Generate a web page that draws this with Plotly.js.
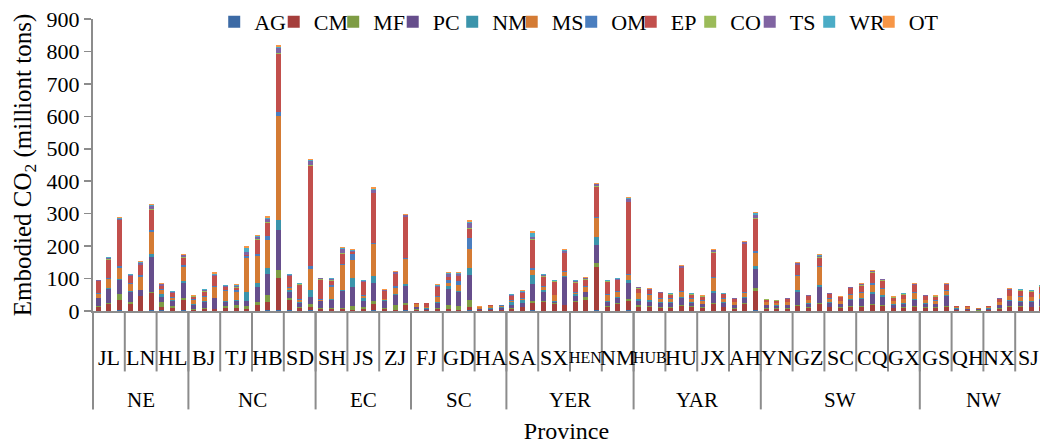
<!DOCTYPE html>
<html><head><meta charset="utf-8">
<script src="https://cdn.plot.ly/plotly-3.0.1.min.js"></script>
<style>html,body{margin:0;padding:0;background:#fff}#chart{width:1040px;height:444px}</style>
</head><body><div id="chart"></div>
<script>
const provinces = ['JL','LN','HL','BJ','TJ','HB','SD','SH','JS','ZJ','FJ','GD','HA','SA','SX','HEN','NM','HUB','HU','JX','AH','YN','GZ','SC','CQ','GX','GS','QH','NX','SJ'];
const regions = ['NE','NC','EC','SC','YER','YAR','SW','NW'];
const regionSizes = [3,4,3,3,4,4,5,4];
const barsPerProvince = 3;
const seriesNames = ['AG','CM','MF','PC','NM','MS','OM','EP','CO','TS','WR','OT'];
const seriesColors = ['#3C6AA5','#A53E3B','#7E9C44','#664E8C','#3B94AB','#D47B34','#4A7EBF','#C24F4C','#9BBB59','#8064A2','#4BACC6','#F79646'];

const AG = [1,1,3, 1,1,2, 2,1,2, 1,1,1, 1,1,1, 1,2,2, 2,1,2, 1,1,1, 1,1,2, 1,1,2,
  0.5,0.5,1, 1,1,2, 0.5,0.5,0.5, 1,1,2, 1,1,1, 1,1,2, 1,1,2, 1,1,1, 1,1,1, 1,1,1, 1,1,2,
  1,1,1, 1,1,1, 1,1,1, 1,1,1, 1,1,1, 1,1,1, 0.5,0.5,0.3, 0.5,1,1, 1,1,1];
const CM = [11,22,30, 22,44,52, 10,9,31, 3,6,5, 9,9,5, 16,26,100, 31,8,10, 6,4,6, 3,6,21, 5,3,16,
  4,3,6, 4,3,11, 2,2,2, 6,11,23, 27,20,17, 27,34,134, 11,20,30, 12,10,8, 8,15,10, 8,20,10, 6,20,60,
  5,5,6, 15,8,20, 10,8,12, 12,18,15, 7,8,12, 8,8,12, 2,2,1, 2,6,10, 10,10,12];
const MF = [4,2,20, 5,2,5, 17,6,8, 2,3,1, 5,7,10, 12,20,24, 7,4,10, 1,3,1, 12,5,7, 4,14,7,
  1,1,3, 12,12,22, 1,1,1, 2,1,5, 3,3,1, 4,8,13, 2,3,5, 4,4,3, 3,3,3, 2,4,2, 2,3,8,
  2,2,2, 3,2,4, 2,2,3, 3,4,3, 2,2,3, 2,2,3, 1,1,0.5, 1,2,3, 3,2,3];
const PC = [23,44,43, 30,17,107, 15,15,44, 14,17,32, 12,14,16, 44,66,124, 20,12,20, 22,27,54, 57,20,56, 20,30,51,
  7,3,14, 50,42,76, 3,3,6, 10,12,52, 27,4,85, 13,15,54, 14,15,50, 15,14,12, 12,20,12, 10,30,12, 9,15,60,
  9,8,9, 40,12,50, 12,10,18, 20,30,25, 10,12,18, 11,10,30, 4,3,3, 4,9,16, 15,14,18];
const NM = [2,2,4, 4,2,10, 7,2,6, 2,5,2, 4,4,26, 12,20,32, 4,4,22, 1,2,4, 28,7,22, 3,4,7,
  1,0.5,4, 10,3,22, 1,4,2, 9,8,28, 7,4,5, 7,2,26, 2,3,8, 4,4,3, 3,4,3, 2,6,3, 2,3,10,
  2,2,2, 5,2,6, 3,2,4, 4,6,5, 2,3,4, 2,2,4, 1,1,0.5, 1,2,3, 3,3,4];
const MS = [12,27,34, 20,40,68, 14,8,44, 12,10,34, 30,25,106, 85,86,320, 6,4,66, 4,38,77, 55,7,100, 4,20,76,
  7,4,15, 10,18,58, 4,5,5, 4,4,17, 8,16,12, 5,13,57, 20,18,15, 18,16,10, 10,15,8, 8,40,9, 7,15,40,
  8,7,8, 45,8,55, 9,7,12, 15,22,18, 8,10,18, 9,9,12, 3,4,3, 3,8,12, 12,12,15];
const OM = [2,3,4, 4,5,5, 3,3,6, 2,3,2, 4,4,7, 5,10,12, 3,4,8, 1,5,2, 20,2,3, 1,4,4,
  1,0.5,2, 10,15,33, 0.5,0.5,0.5, 2,2,6, 5,2,2, 2,3,5, 2,2,5, 3,3,2, 2,3,2, 2,4,2, 1,2,5,
  1,1,1, 3,2,3, 2,2,3, 3,4,3, 2,2,3, 2,2,3, 0.5,0.5,0.3, 0.5,1,2, 2,2,3];
const EP = [37,57,141, 21,30,61, 8,11,23, 8,15,30, 8,7,2, 45,40,178, 34,44,310, 61,14,32, 5,40,152, 24,38,126,
  2,11,29, 7,13,28, 1,1,0.5, 12,17,86, 28,40,55, 28,21,92, 38,34,220, 12,12,16, 11,72,11, 11,75,12, 9,148,100,
  7,6,8, 30,11,25, 12,10,17, 20,32,23, 9,12,20, 11,10,15, 2,2,1, 2,8,17, 16,15,18];
const CO = [1,1,2, 1,2,3, 2,1,2, 1,1,1, 1,2,1, 2,3,4, 2,1,3, 1,1,1, 1,1,2, 1,1,2,
  0.5,0.5,1, 2,2,3, 0.3,0.2,0.2, 1,1,2, 1,1,1, 1,1,2, 1,1,2, 1,1,1, 1,1,1, 1,2,1, 1,1,2,
  1,1,1, 1,1,2, 1,1,1, 2,2,2, 1,1,2, 1,1,1, 0.3,0.3,0.1, 0.3,1,2, 2,2,2];
const TS = [2,4,4, 3,5,10, 4,4,6, 1,4,4, 3,4,8, 6,10,14, 3,2,10, 3,4,13, 4,4,7, 2,4,4,
  0.5,0.5,3, 8,6,15, 0.3,0.3,0.1, 2,3,8, 4,3,7, 4,4,5, 3,3,8, 3,3,2, 2,4,2, 1,5,1, 1,4,10,
  1,1,1, 4,2,5, 2,1,2, 3,4,3, 2,2,2, 2,2,2, 0.3,0.3,0.1, 0.3,1,2, 2,2,2];
const WR = [1,2,3, 2,3,3, 2,2,2, 1,2,3, 2,3,12, 2,4,5, 1,1,3, 1,2,2, 2,2,3, 1,2,2,
  0.2,0.2,2, 3,2,5, 0.2,0.3,0.1, 2,2,10, 2,1,2, 3,1,2, 1,1,2, 1,1,1, 1,2,1, 1,2,1, 0.5,1,4,
  0.5,0.5,0.5, 1,0.5,2, 0.5,0.5,1, 1,1,1, 0.5,1,1, 0.5,0.5,1, 0.2,0.2,0.1, 0.2,0.5,1, 1,1,1];
const OT = [1,2,2, 2,4,4, 2,1,3, 1,2,6, 2,2,6, 4,5,5, 2,2,4, 1,2,5, 2,2,6, 1,3,3,
  0.3,0.3,2, 3,3,5, 0.2,0.2,0.1, 1,2,7, 2,2,2, 2,2,3, 2,2,3, 1,1,1, 1,2,1, 1,3,1, 0.5,2,4,
  0.5,0.5,0.5, 2,0.5,2, 0.5,0.5,1, 1,1,1, 0.5,1,1, 0.5,0.5,1, 0.2,0.2,0.1, 0.2,0.5,1, 1,1,1];

const seriesValues = [AG, CM, MF, PC, NM, MS, OM, EP, CO, TS, WR, OT];
const FONT = 'Liberation Serif, Times New Roman, serif';
const GRAY = '#8c8c8c';
const barIndex = AG.map((_, i) => i);

const traces = seriesNames.map((name, k) => {
  const t = {
    type: 'bar', name: name, x: barIndex, y: seriesValues[k], width: 0.47,
    marker: {color: seriesColors[k], line: {width: 0}}, hoverinfo: 'name+y'
  };
  if (k === seriesNames.length - 1) t.legendwidth = 36;
  return t;
});

const annotations = [];
const shapes = [];
provinces.forEach((p, i) => {
  const size = p.length > 2 ? 16 : 22;
  const last = i === provinces.length - 1;
  annotations.push({x: i * barsPerProvince + 1, xref: 'x', y: -0.159, yref: 'paper', text: p,
    showarrow: false, yanchor: 'middle', xshift: last ? -3 : 0, font: {family: FONT, size: size, color: '#000'}});
  if (i > 0) shapes.push({type: 'line', xref: 'x', yref: 'paper', x0: i * barsPerProvince - 0.5, x1: i * barsPerProvince - 0.5,
    y0: 0, y1: -0.207, line: {color: GRAY, width: 2}});
});
let start = 0;
regions.forEach((r, j) => {
  const end = start + regionSizes[j];
  annotations.push({x: (start * barsPerProvince + end * barsPerProvince - 1) / 2, xref: 'x', y: -0.306, yref: 'paper',
    text: r, showarrow: false, yanchor: 'middle', font: {family: FONT, size: 21, color: '#000'}});
  if (start > 0) shapes.push({type: 'line', xref: 'x', yref: 'paper', x0: start * barsPerProvince - 0.5, x1: start * barsPerProvince - 0.5,
    y0: 0, y1: -0.337, line: {color: GRAY, width: 2}});
  start = end;
});
shapes.push({type: 'line', xref: 'paper', yref: 'paper', x0: 0, x1: 0, y0: 0, y1: -0.337, line: {color: GRAY, width: 2}});

const layout = {
  width: 1040, height: 444,
  margin: {l: 93, r: 0, t: 19, b: 132.5, pad: 0},
  paper_bgcolor: '#fff', plot_bgcolor: '#fff',
  barmode: 'stack',
  font: {family: FONT, color: '#000'},
  showlegend: true,
  legend: {orientation: 'h', x: 0.128, xanchor: 'left', y: 1.062, yanchor: 'top',
    font: {family: FONT, size: 22, color: '#000'}, entrywidth: 14.5, itemwidth: 30,
    bgcolor: 'rgba(0,0,0,0)', traceorder: 'normal'},
  xaxis: {range: [-0.5, 88.84], showticklabels: false, ticks: '', showgrid: false, zeroline: false,
    showline: true, linecolor: GRAY, linewidth: 2,
    title: {text: 'Province', font: {family: FONT, size: 24, color: '#000'}, standoff: 110}},
  yaxis: {range: [0, 900], dtick: 100, ticks: 'outside', ticklen: 7, tickwidth: 1.5, tickcolor: GRAY,
    showline: true, linecolor: GRAY, linewidth: 2, showgrid: false, zeroline: false,
    tickfont: {family: FONT, size: 22, color: '#000'},
    title: {text: 'Embodied CO<sub>2</sub> (milliont tons)', font: {family: FONT, size: 25, color: '#000'}, standoff: 8}},
  annotations: annotations,
  shapes: shapes
};
Plotly.newPlot('chart', traces, layout, {displayModeBar: false, staticPlot: true});
</script>
</body></html>
